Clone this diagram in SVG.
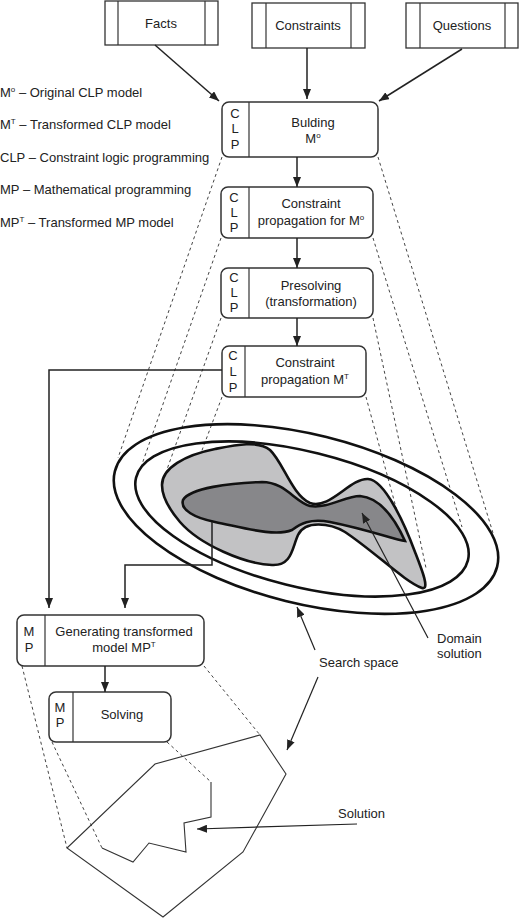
<svg xmlns="http://www.w3.org/2000/svg" width="520" height="919" viewBox="0 0 520 919">
<defs>
<marker id="ah" markerUnits="userSpaceOnUse" markerWidth="10" markerHeight="8" refX="10" refY="4" orient="auto">
<path d="M0,0 L10,4 L0,8 z" fill="#222"/>
</marker>
<style>
text{font-family:"Liberation Sans",Arial,sans-serif;font-size:13px;fill:#222}
.c{text-anchor:middle}
.src{fill:#fff;stroke:#333;stroke-width:1.3}
.box{fill:#fff;stroke:#333;stroke-width:1.5}
.div{stroke:#333;stroke-width:1.2}
.dash{stroke:#444;stroke-width:1;stroke-dasharray:3 3;fill:none}
.arr{stroke:#222;stroke-width:1.5;fill:none;marker-end:url(#ah)}
.thin{stroke:#222;stroke-width:1.2;fill:none}
.ell{fill:none;stroke:#111;stroke-width:2.6}
.poly{fill:none;stroke:#333;stroke-width:1.1}
</style>
</defs>
<rect width="520" height="919" fill="#fff"/>

<g id="legend">
<text x="0" y="97">M<tspan dy="-5" font-size="8">o</tspan><tspan dy="5"> – Original CLP model</tspan></text>
<text x="0" y="129">M<tspan dy="-5" font-size="8">T</tspan><tspan dy="5"> – Transformed CLP model</tspan></text>
<text x="0" y="162">CLP – Constraint logic programming</text>
<text x="0" y="194">MP – Mathematical programming</text>
<text x="0" y="227">MP<tspan dy="-5" font-size="8">T</tspan><tspan dy="5"> – Transformed MP model</tspan></text>
</g>

<g id="dashed-projections">
<line class="dash" x1="222" y1="157" x2="118" y2="458"/>
<line class="dash" x1="221" y1="238" x2="140" y2="470"/>
<line class="dash" x1="221" y1="318" x2="165" y2="475"/>
<line class="dash" x1="222" y1="397" x2="186" y2="493"/>
<line class="dash" x1="378" y1="157" x2="493" y2="533"/>
<line class="dash" x1="373" y1="238" x2="462" y2="527"/>
<line class="dash" x1="373" y1="318" x2="426" y2="568"/>
<line class="dash" x1="366" y1="397" x2="404" y2="537"/>
<line class="dash" x1="22" y1="666" x2="67" y2="848"/>
<line class="dash" x1="204" y1="666" x2="260" y2="735"/>
<line class="dash" x1="52" y1="742" x2="102" y2="848"/>
<line class="dash" x1="167" y1="742" x2="211" y2="782"/>
</g>

<g id="search-space">
<ellipse class="ell" cx="306" cy="519" rx="197" ry="84.5" transform="rotate(14 306 519)"/>
<ellipse class="ell" cx="302" cy="519" rx="171" ry="67.5" transform="rotate(14 302 519)"/>
<path id="domain" d="M162,485 C162,468 185,455 215,449 C235,445 258,440 270,450 C283,462 292,495 310,503 C330,510 350,478 368,479 C385,480 405,525 415,552 C422,570 430,590 422,588 C405,582 375,552 345,532 C330,523 305,520 298,535 C292,548 292,566 272,565 C245,564 200,545 180,522 C168,508 162,495 162,485 Z" fill="#c2c2c4" stroke="#111" stroke-width="2.6"/>
<path id="domain-solution" d="M183,500 C190,488 230,483 262,482 C285,482 295,502 310,506 C328,509 345,496 360,496 C385,498 400,530 405,541 C395,540 370,530 330,522 C310,518 300,524 292,530 C275,537 245,528 215,522 C195,518 180,510 183,500 Z" fill="#87878a" stroke="#111" stroke-width="2.6"/>
<polygon class="poly" points="260,735 286,774 243,852 163,917 67,848 155,764"/>
<polyline class="poly" points="211,782 211,817 184,823 186,852 149,843 133,862 102,848"/>
</g>

<g id="facts">
<rect class="src" x="105" y="1" width="113" height="44"/>
<line class="div" x1="118" y1="1" x2="118" y2="45"/>
<line class="div" x1="205" y1="1" x2="205" y2="45"/>
<text class="c" x="161" y="28">Facts</text>
</g>
<g id="constraints">
<rect class="src" x="252" y="3" width="113" height="45"/>
<line class="div" x1="266" y1="3" x2="266" y2="48"/>
<line class="div" x1="351" y1="3" x2="351" y2="48"/>
<text class="c" x="308" y="30">Constraints</text>
</g>
<g id="questions">
<rect class="src" x="406" y="3" width="112" height="45"/>
<line class="div" x1="420" y1="3" x2="420" y2="48"/>
<line class="div" x1="505" y1="3" x2="505" y2="48"/>
<text class="c" x="462" y="30">Questions</text>
</g>

<g id="clp1">
<rect class="box" x="222" y="102" width="156" height="55" rx="7"/>
<line class="div" x1="249" y1="102" x2="249" y2="157"/>
<text class="c" x="235" y="118">C</text><text class="c" x="235" y="133">L</text><text class="c" x="235" y="149">P</text>
<text class="c" x="313" y="127">Bulding</text>
<text class="c" x="313" y="143">M<tspan dy="-5" font-size="8">o</tspan></text>
</g>
<g id="clp2">
<rect class="box" x="221" y="187" width="152" height="51" rx="7"/>
<line class="div" x1="249" y1="187" x2="249" y2="238"/>
<text class="c" x="234" y="202">C</text><text class="c" x="234" y="217">L</text><text class="c" x="234" y="232">P</text>
<text class="c" x="311" y="208">Constraint</text>
<text class="c" x="311" y="225">propagation for M<tspan dy="-5" font-size="8">o</tspan></text>
</g>
<g id="clp3">
<rect class="box" x="221" y="268" width="152" height="50" rx="7"/>
<line class="div" x1="249" y1="268" x2="249" y2="318"/>
<text class="c" x="234" y="282">C</text><text class="c" x="234" y="297">L</text><text class="c" x="234" y="312">P</text>
<text class="c" x="311" y="290">Presolving</text>
<text class="c" x="311" y="306">(transformation)</text>
</g>
<g id="clp4">
<rect class="box" x="222" y="346" width="144" height="51" rx="7"/>
<line class="div" x1="245" y1="346" x2="245" y2="397"/>
<text class="c" x="233" y="360">C</text><text class="c" x="233" y="376">L</text><text class="c" x="233" y="392">P</text>
<text class="c" x="305" y="367">Constraint</text>
<text class="c" x="305" y="384">propagation M<tspan dy="-5" font-size="8">T</tspan></text>
</g>
<g id="mp1">
<rect class="box" x="17" y="615" width="187" height="51" rx="7"/>
<line class="div" x1="45" y1="615" x2="45" y2="666"/>
<text class="c" x="29" y="636">M</text><text class="c" x="29" y="652">P</text>
<text class="c" x="124" y="636">Generating transformed</text>
<text class="c" x="124" y="652">model MP<tspan dy="-5" font-size="8">T</tspan></text>
</g>
<g id="mp2">
<rect class="box" x="49" y="692" width="122" height="50" rx="7"/>
<line class="div" x1="73" y1="692" x2="73" y2="742"/>
<text class="c" x="60" y="712">M</text><text class="c" x="60" y="727">P</text>
<text class="c" x="122" y="719">Solving</text>
</g>

<g id="labels">
<text x="437" y="643">Domain</text>
<text x="437" y="658">solution</text>
<text x="319" y="667">Search space</text>
<text x="338" y="818">Solution</text>
</g>

<g id="connectors">
<line class="arr" x1="155" y1="45" x2="219" y2="101"/>
<line class="arr" x1="307" y1="48" x2="307" y2="99"/>
<line class="arr" x1="462" y1="49" x2="379" y2="101"/>
<line class="arr" x1="297" y1="157" x2="297" y2="187"/>
<line class="arr" x1="297" y1="238" x2="297" y2="268"/>
<line class="arr" x1="297" y1="318" x2="297" y2="346"/>
<polyline class="arr" stroke-width="2" points="222,370 49,370 49,608"/>
<polyline class="arr" points="212,522 212,565 125,565 125,608"/>
<line class="arr" x1="105" y1="666" x2="105" y2="692"/>
<line class="thin" marker-end="url(#ah)" x1="428" y1="638" x2="362" y2="513"/>
<line class="thin" marker-end="url(#ah)" x1="315" y1="650" x2="297" y2="607"/>
<line class="thin" marker-end="url(#ah)" x1="318" y1="677" x2="287" y2="750"/>
<line class="thin" marker-end="url(#ah)" x1="357" y1="824" x2="197" y2="829"/>
</g>
</svg>
